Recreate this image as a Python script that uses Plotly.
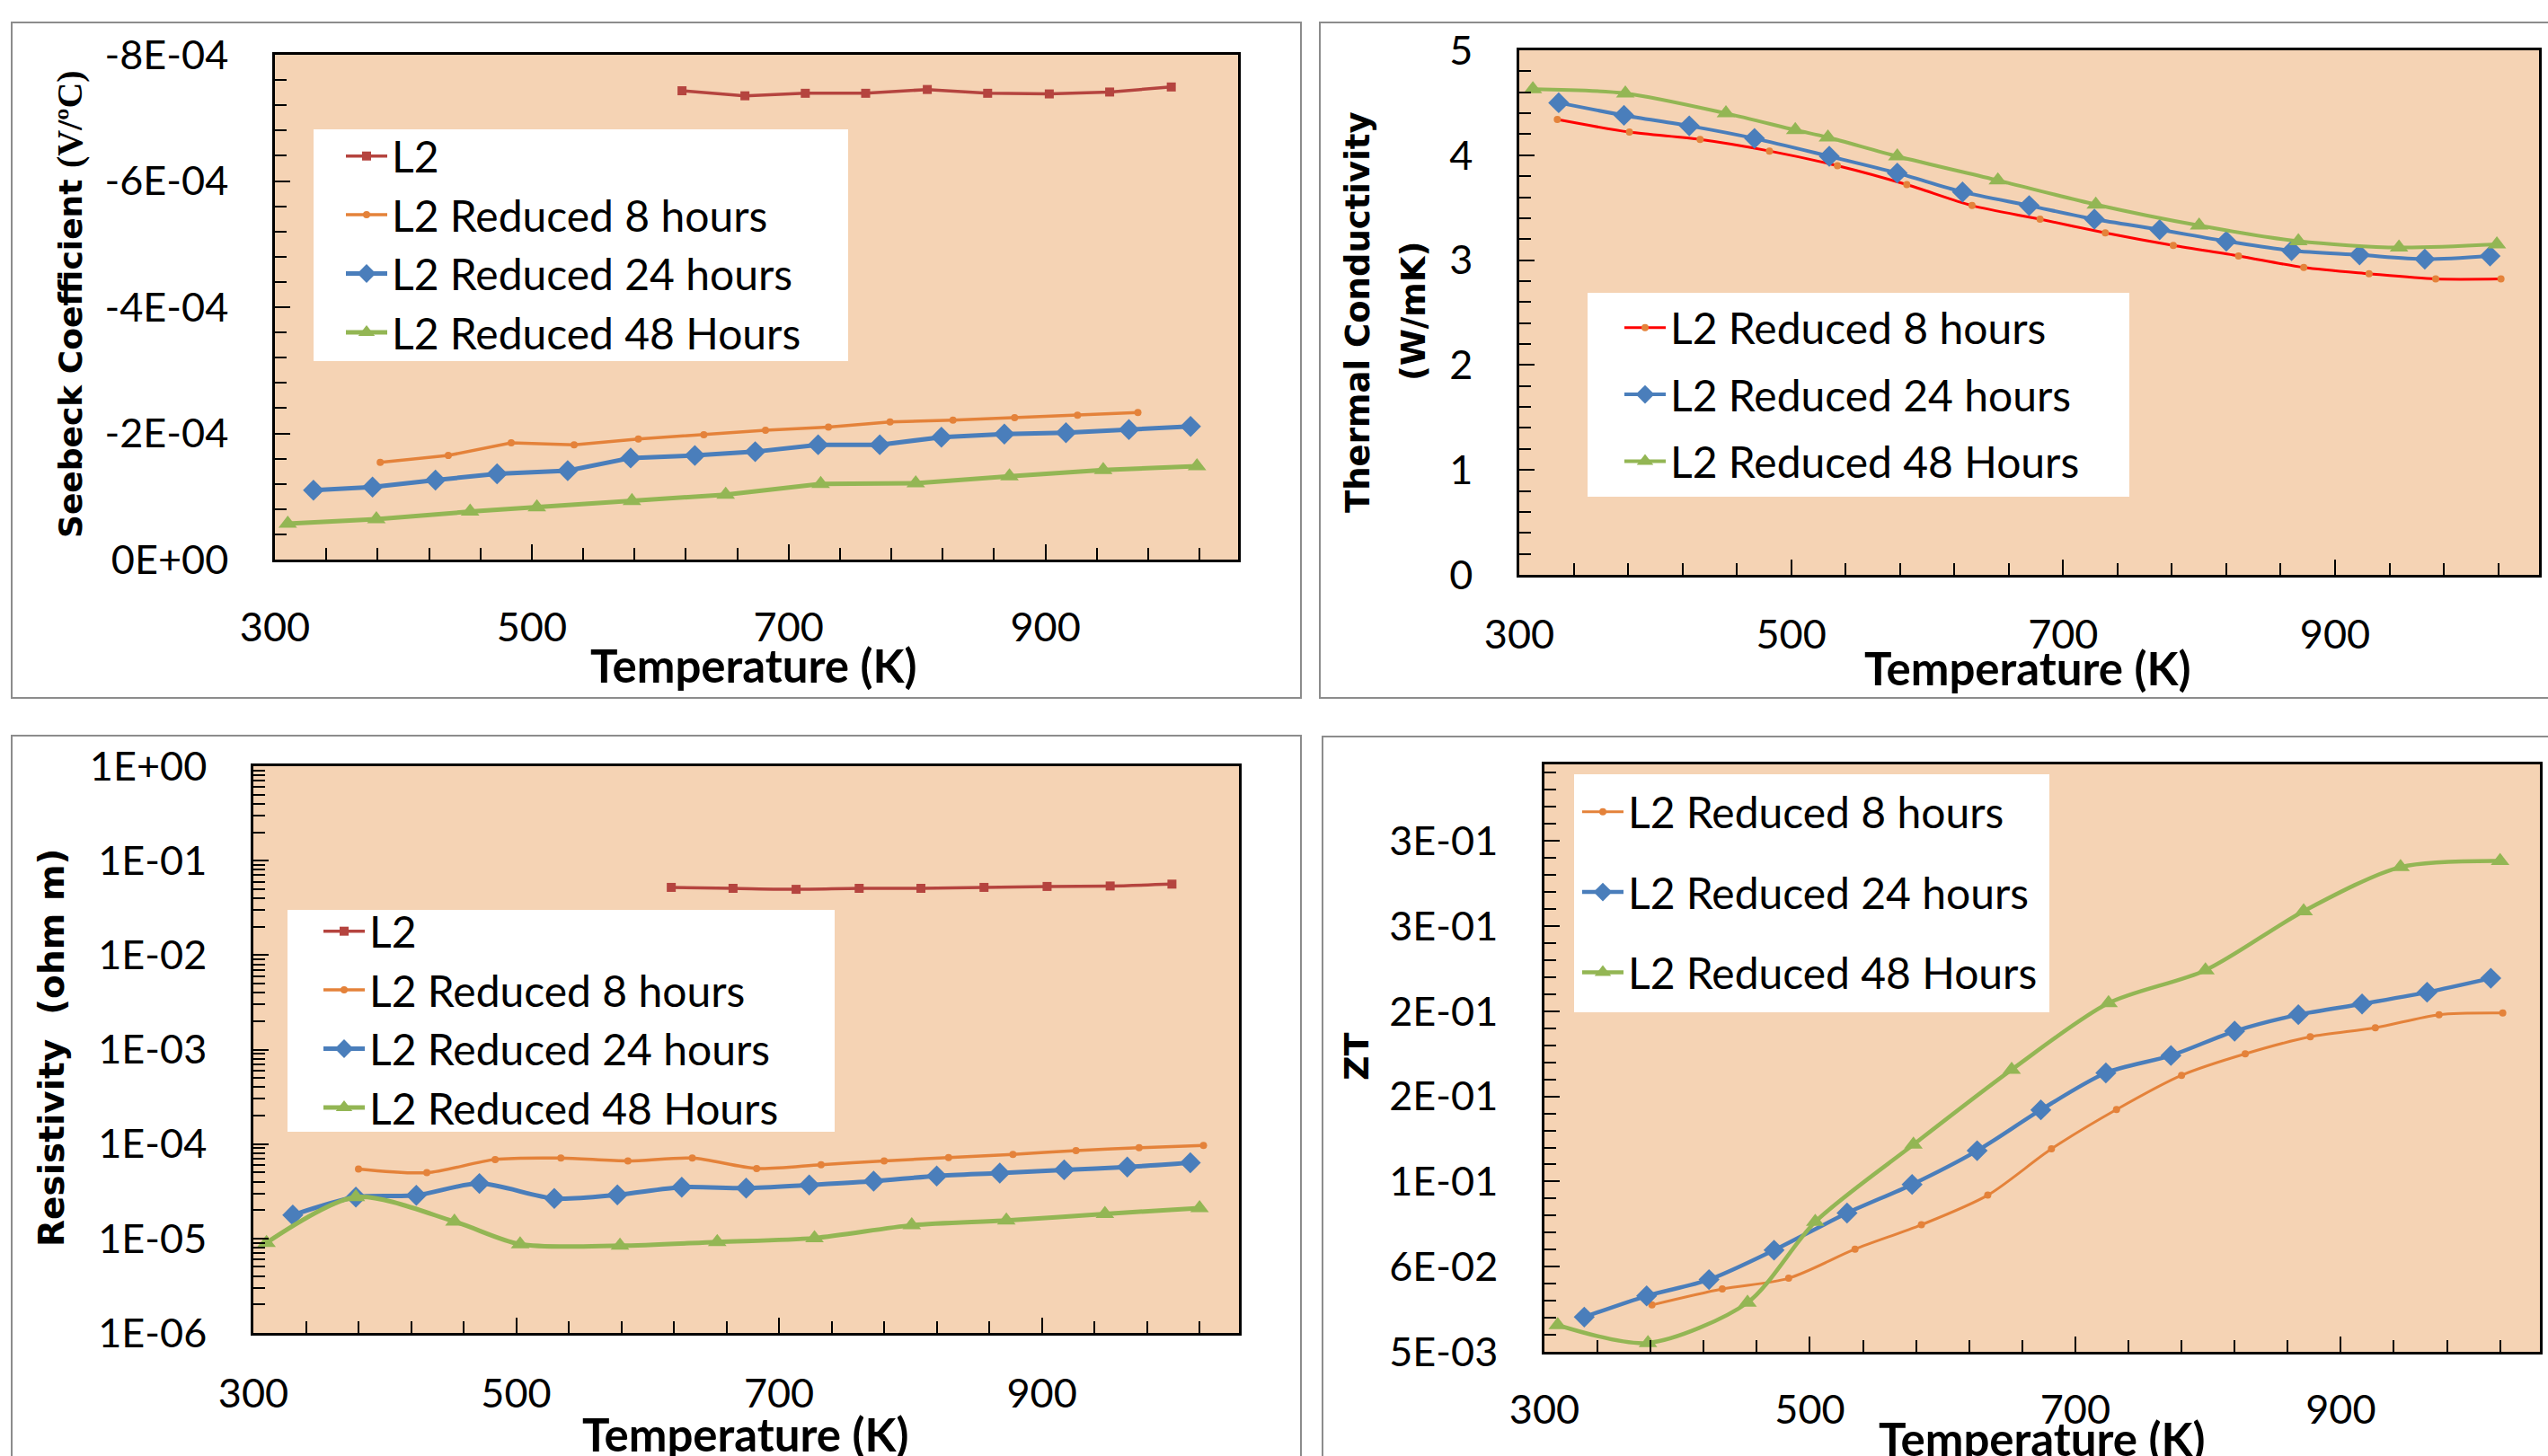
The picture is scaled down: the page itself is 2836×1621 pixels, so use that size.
import plotly.graph_objects as go

W, H = 2836, 1621

# ---------------- data ----------------
x_tickvals = [300, 500, 700, 900]
x_ticktext = ["300", "500", "700", "900"]

# Seebeck coefficient (V/oC)
sb_T_L2 = [617, 666, 713, 760, 808, 855, 903, 950, 998]
sb_L2 = [-7.43e-4, -7.35e-4, -7.39e-4, -7.39e-4, -7.45e-4, -7.39e-4, -7.38e-4, -7.41e-4, -7.49e-4]
sb_T_8 = [382, 435, 484, 533, 583, 634, 682, 731, 779, 828, 876, 925, 972]
sb_8 = [-1.54e-4, -1.65e-4, -1.85e-4, -1.82e-4, -1.91e-4, -1.98e-4, -2.05e-4, -2.10e-4,
        -2.18e-4, -2.21e-4, -2.25e-4, -2.29e-4, -2.33e-4]
sb_T_24 = [330, 376, 425, 473, 528, 577, 627, 674, 723, 771, 819, 868, 916, 965, 1013]
sb_24 = [-1.10e-4, -1.15e-4, -1.26e-4, -1.36e-4, -1.41e-4, -1.61e-4, -1.65e-4, -1.71e-4,
         -1.82e-4, -1.82e-4, -1.94e-4, -1.99e-4, -2.01e-4, -2.06e-4, -2.11e-4]
sb_T_48 = [310, 379, 452, 504, 578, 651, 725, 799, 872, 945, 1018]
sb_48 = [-5.7e-5, -6.4e-5, -7.6e-5, -8.3e-5, -9.3e-5, -1.03e-4, -1.20e-4, -1.21e-4,
         -1.32e-4, -1.42e-4, -1.48e-4]
sb_tickvals = [0, -2e-4, -4e-4, -6e-4, -8e-4]
sb_ticktext = ["0E+00", "-2E-04", "-4E-04", "-6E-04", "-8E-04"]

# Thermal conductivity (W/mK)
tc_T_8 = [328, 381, 433, 484, 534, 585, 633, 683, 731, 781, 829, 877, 925, 974, 1022]
tc_8 = [4.34, 4.22, 4.15, 4.04, 3.90, 3.72, 3.52, 3.39, 3.26, 3.14, 3.04, 2.93, 2.87, 2.82, 2.82]
tc_T_24 = [329, 377, 425, 473, 528, 578, 626, 675, 723, 771, 820, 868, 918, 966, 1014]
tc_24 = [4.50, 4.38, 4.28, 4.16, 3.99, 3.83, 3.65, 3.52, 3.39, 3.29, 3.18, 3.09, 3.05, 3.01, 3.04]
tc_T_48 = [310, 378, 452, 503, 527, 578, 652, 724, 800, 873, 947, 1019]
tc_48 = [4.63, 4.59, 4.40, 4.24, 4.17, 3.99, 3.76, 3.53, 3.33, 3.18, 3.12, 3.15]
tc_tickvals = [0, 1, 2, 3, 4, 5]
tc_ticktext = ["0", "1", "2", "3", "4", "5"]

# Resistivity (ohm m)
rs_T_L2 = [618, 665, 713, 761, 808, 856, 904, 952, 999]
rs_L2 = [0.0521, 0.0509, 0.0497, 0.0509, 0.0509, 0.0521, 0.0533, 0.0539, 0.0564]
rs_T_8 = [380, 432, 484, 534, 585, 634, 683, 732, 780, 829, 878, 926, 974, 1023]
rs_8 = [5.45e-5, 4.97e-5, 6.86e-5, 7.10e-5, 6.62e-5, 7.10e-5, 5.51e-5, 6.04e-5,
        6.62e-5, 7.18e-5, 7.78e-5, 8.52e-5, 9.13e-5, 9.67e-5]
rs_T_24 = [330, 378, 424, 472, 529, 577, 626, 675, 723, 772, 820, 868, 917, 965, 1013]
rs_24 = [1.77e-5, 2.74e-5, 2.87e-5, 3.82e-5, 2.65e-5, 2.90e-5, 3.49e-5, 3.41e-5,
         3.69e-5, 4.04e-5, 4.59e-5, 4.92e-5, 5.33e-5, 5.71e-5, 6.33e-5]
rs_T_48 = [310, 378, 453, 503, 579, 653, 727, 801, 873, 948, 1020]
rs_48 = [9.0e-6, 2.74e-5, 1.51e-5, 8.7e-6, 8.4e-6, 9.2e-6, 1.01e-5, 1.38e-5, 1.55e-5, 1.82e-5, 2.10e-5]
rs_tickvals = [1e-6, 1e-5, 1e-4, 1e-3, 1e-2, 1e-1, 1]
rs_ticktext = ["1E-06", "1E-05", "1E-04", "1E-03", "1E-02", "1E-01", "1E+00"]

# ZT
zt_T_8 = [381, 434, 484, 534, 584, 634, 682, 731, 780, 828, 877, 926, 974, 1022]
zt_8 = [0.0325, 0.0419, 0.0482, 0.0653, 0.0796, 0.097, 0.1242, 0.1473, 0.1674, 0.180,
        0.190, 0.1953, 0.203, 0.204]
zt_T_24 = [330, 377, 424, 473, 528, 577, 626, 674, 723, 772, 820, 868, 916, 965, 1013]
zt_24 = [0.0254, 0.0378, 0.0474, 0.0647, 0.0865, 0.1033, 0.1231, 0.1471, 0.1688, 0.179,
         0.1933, 0.203, 0.2093, 0.2162, 0.2244]
zt_T_48 = [310, 378, 453, 504, 578, 652, 725, 798, 872, 945, 1020]
zt_48 = [0.0207, 0.0102, 0.0339, 0.0813, 0.1267, 0.1707, 0.2098, 0.2291, 0.2638, 0.2897, 0.2933]
zt_tickvals = [0.005, 0.055, 0.105, 0.155, 0.205, 0.255, 0.305]
zt_ticktext = ["5E-03", "6E-02", "1E-01", "2E-01", "2E-01", "3E-01", "3E-01"]

NAME_L2 = "L2"
NAME_8 = "L2 Reduced 8 hours"
NAME_24 = "L2 Reduced 24 hours"
NAME_48 = "L2 Reduced 48 Hours"

# ---------------- styles ----------------
C_L2 = "#B5443F"
C_8 = "#E4823A"
C_8_TC = "#FF0000"
C_24 = "#4A7EBB"
C_48 = "#93B654"
PEACH = "#F5D3B4"
TICKFONT = dict(family="Lato", size=45, color="black")
LEGFONT = dict(family="Lato", size=48, color="black")


def px(x):
    return x / W


def py(y):
    return 1 - y / H


fig = go.Figure()


def add(xa, ya, T, v, name, color, sym, msize, lw, shape, legend, mcolor=None, group=None):
    fig.add_trace(go.Scatter(
        x=T, y=v, name=name, mode="lines+markers", xaxis=xa, yaxis=ya,
        line=dict(color=color, width=lw, shape=shape, smoothing=0.8),
        marker=dict(symbol=sym, size=msize, color=mcolor or color),
        legend=legend, legendgroup=group, showlegend=True))


# Panel 1: Seebeck
add("x", "y", sb_T_L2, sb_L2, NAME_L2, C_L2, "square", 10, 3.5, "linear", "legend", group="a")
add("x", "y", sb_T_8, sb_8, NAME_8, C_8, "circle", 8, 3.5, "linear", "legend", group="b")
add("x", "y", sb_T_24, sb_24, NAME_24, C_24, "diamond", 18, 5, "linear", "legend", group="c")
add("x", "y", sb_T_48, sb_48, NAME_48, C_48, "triangle-up", 18, 5, "linear", "legend", group="d")

# Panel 2: thermal conductivity
add("x2", "y2", tc_T_8, tc_8, NAME_8, C_8_TC, "circle", 8, 3, "spline", "legend2", mcolor=C_8, group="b2")
add("x2", "y2", tc_T_24, tc_24, NAME_24, C_24, "diamond", 18, 4, "spline", "legend2", group="c2")
add("x2", "y2", tc_T_48, tc_48, NAME_48, C_48, "triangle-up", 18, 4, "spline", "legend2", group="d2")

# Panel 3: resistivity
add("x3", "y3", rs_T_L2, rs_L2, NAME_L2, C_L2, "square", 10, 3.5, "spline", "legend3", group="a3")
add("x3", "y3", rs_T_8, rs_8, NAME_8, C_8, "circle", 8, 3.5, "spline", "legend3", group="b3")
add("x3", "y3", rs_T_24, rs_24, NAME_24, C_24, "diamond", 18, 5, "spline", "legend3", group="c3")
add("x3", "y3", rs_T_48, rs_48, NAME_48, C_48, "triangle-up", 18, 5, "spline", "legend3", group="d3")

# Panel 4: ZT
add("x4", "y4", zt_T_8, zt_8, NAME_8, C_8, "circle", 8, 3, "spline", "legend4", group="b4")
add("x4", "y4", zt_T_24, zt_24, NAME_24, C_24, "diamond", 18, 4.5, "spline", "legend4", group="c4")
add("x4", "y4", zt_T_48, zt_48, NAME_48, C_48, "triangle-up", 18, 4.5, "spline", "legend4", group="d4")


def xaxis(domain, anchor, standoff):
    return dict(domain=domain, anchor=anchor, range=[300, 1050], tickmode="array",
                tickvals=x_tickvals, ticktext=x_ticktext, ticks="inside", ticklen=17,
                tickwidth=2, tickcolor="black", showline=True, linecolor="black",
                linewidth=2.5, mirror=True, showgrid=False, zeroline=False,
                tickfont=TICKFONT, ticklabelstandoff=standoff, automargin=False,
                minor=dict(tickmode="linear", tick0=300, dtick=40, ticks="inside",
                           ticklen=13, tickwidth=2, tickcolor="black", showgrid=False))


def yaxis(domain, anchor, rng, tv, tt, minor, typ="linear", standoff=40):
    return dict(domain=domain, anchor=anchor, range=rng, type=typ, tickmode="array",
                tickvals=tv, ticktext=tt, ticks="inside", ticklen=17, tickwidth=2,
                tickcolor="black", showline=True, linecolor="black", linewidth=2.5,
                mirror=True, showgrid=False, zeroline=False, tickfont=TICKFONT,
                ticklabelstandoff=standoff, minor=minor, automargin=False)


minor_sb = dict(tickmode="linear", tick0=0, dtick=4e-5, ticks="inside", ticklen=13,
                tickwidth=2, tickcolor="black", showgrid=False)
minor_tc = dict(tickmode="linear", tick0=0, dtick=0.2, ticks="inside", ticklen=13,
                tickwidth=2, tickcolor="black", showgrid=False)
minor_rs = dict(tickmode="array",
                tickvals=[m * 10.0 ** e for e in range(-6, 0) for m in range(2, 10)],
                ticks="inside", ticklen=13, tickwidth=2, tickcolor="black", showgrid=False)
minor_zt = dict(tickmode="linear", tick0=0.005, dtick=0.01, ticks="inside", ticklen=13,
                tickwidth=2, tickcolor="black", showgrid=False)

d1x, d1y = [px(306), px(1378)], [py(623), py(61)]
d2x, d2y = [px(1691), px(2826)], [py(640), py(56)]
d3x, d3y = [px(282), px(1379)], [py(1484), py(853)]
d4x, d4y = [px(1719), px(2827)], [py(1505), py(851)]

fig.update_layout(
    template="none",
    width=W, height=H, margin=dict(l=0, r=0, t=0, b=0, pad=0, autoexpand=False),
    paper_bgcolor="white", plot_bgcolor=PEACH,
    xaxis=xaxis(d1x, "y", 34),
    yaxis=yaxis(d1y, "x", [0, -8e-4], sb_tickvals, sb_ticktext, minor_sb),
    xaxis2=xaxis(d2x, "y2", 25),
    yaxis2=yaxis(d2y, "x2", [0, 5], tc_tickvals, tc_ticktext, minor_tc),
    xaxis3=xaxis(d3x, "y3", 26),
    yaxis3=yaxis(d3y, "x3", [-6, 0], rs_tickvals, rs_ticktext, minor_rs, typ="log"),
    xaxis4=xaxis(d4x, "y4", 23),
    yaxis4=yaxis(d4y, "x4", [0.005, 0.35], zt_tickvals, zt_ticktext, minor_zt),
    showlegend=True,
)

common_leg = dict(bgcolor="rgba(0,0,0,0)", borderwidth=0, font=LEGFONT, xanchor="left",
                  yanchor="top", itemwidth=46, traceorder="grouped")
fig.update_layout(
    legend=dict(common_leg, x=px(380), y=py(136), tracegroupgap=0),
    legend2=dict(common_leg, x=px(1803), y=py(327), tracegroupgap=9),
    legend3=dict(common_leg, x=px(355), y=py(999), tracegroupgap=0),
    legend4=dict(common_leg, x=px(1756), y=py(866), tracegroupgap=24),
)

shapes = []
# panel borders
for (x0, y0, x1, y1) in [(13, 25, 1448, 777), (1469, 25, 2850, 777),
                         (13, 819, 1448, 1650), (1472, 820, 2850, 1650)]:
    shapes.append(dict(type="rect", xref="paper", yref="paper", x0=px(x0), x1=px(x1),
                       y0=py(y0), y1=py(y1), line=dict(color="#8C8C8C", width=2),
                       fillcolor="rgba(0,0,0,0)", layer="below"))
# legend boxes
for (x0, y0, x1, y1) in [(349, 144, 944, 402), (1767, 326, 2370, 553),
                         (320, 1013, 929, 1260), (1752, 862, 2281, 1127)]:
    shapes.append(dict(type="rect", xref="paper", yref="paper", x0=px(x0), x1=px(x1),
                       y0=py(y0), y1=py(y1), line=dict(width=0), fillcolor="white",
                       layer="below"))
fig.update_layout(shapes=shapes)

ann = []


def title(text, x, y, size, family, angle=0):
    ann.append(dict(text=text, x=px(x), y=py(y), xref="paper", yref="paper",
                    showarrow=False, textangle=angle, xanchor="center", yanchor="middle",
                    font=dict(family=family, size=size, color="black")))


title("<b>Seebeck Coefficient </b><span style='font-family:Liberation Serif;font-weight:bold;font-size:40px'>(V/ºC)</span>",
      78, 339, 36, "DejaVu Sans", -90)
title("<b>Thermal Conductivity</b>", 1512, 347, 37, "DejaVu Sans", -90)
title("<b>(W/mK)</b>", 1574, 347, 37, "DejaVu Sans", -90)
title("<b>Resistivity\u00a0 (ohm m)</b>", 57, 1167, 39, "DejaVu Sans", -90)
title("<b>ZT</b>", 1510, 1176, 38, "DejaVu Sans", -90)
for (x, y) in [(838, 740), (2256, 743), (829, 1596), (2272, 1601)]:
    title("<b>Temperature (K)</b>", x, y, 51, "Lato")
fig.update_layout(annotations=ann)

fig.write_html("out.html", config={"displayModeBar": False},
               post_script="document.body.style.margin='0px';document.body.style.overflow='hidden';")
